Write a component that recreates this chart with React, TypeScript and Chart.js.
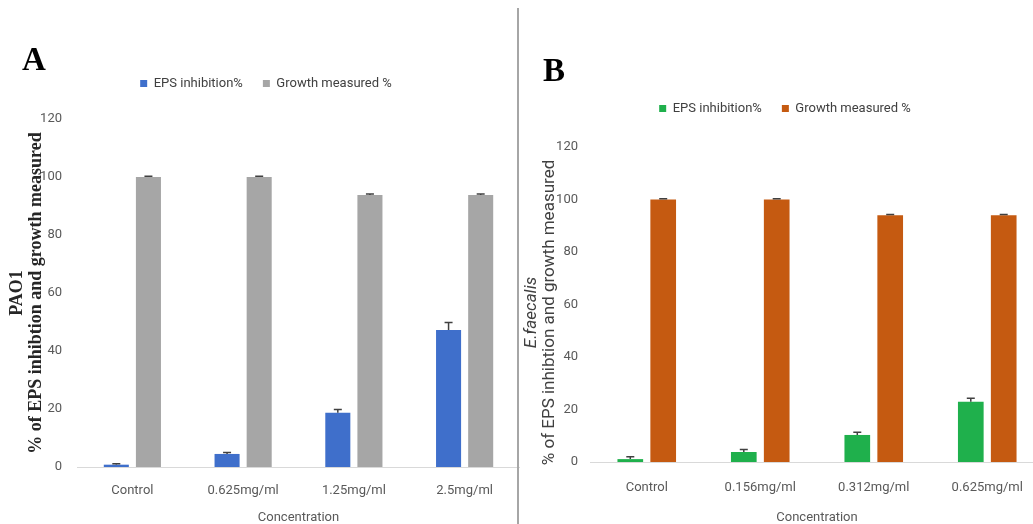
import React, { useEffect, useRef } from 'react';
import { Chart, registerables } from 'chart.js';

Chart.register(...registerables);

// ---------- data ----------
const categoriesA = ['Control', '0.625mg/ml', '1.25mg/ml', '2.5mg/ml'];
const epsA = [0.8, 4.5, 18.7, 47.2];
const epsErrA = [0.3, 0.5, 1.1, 2.6];
const growthA = [100, 100, 93.8, 93.8];
const growthErrA = [0.3, 0.3, 0.3, 0.3];

const categoriesB = ['Control', '0.156mg/ml', '0.312mg/ml', '0.625mg/ml'];
const epsB = [1.1, 3.8, 10.3, 23.0];
const epsErrB = [0.9, 1.0, 1.0, 1.3];
const growthB = [100, 100, 94, 94];
const growthErrB = [0.3, 0.3, 0.3, 0.3];

const seriesNames = ['EPS inhibition%', 'Growth measured %'];
const yMin = 0;
const yMax = 120;
const yStep = 20;
const xTitle = 'Concentration';
const yTitle = '% of EPS inhibtion and growth measured';
const organismA = 'PAO1';
const organismB = 'E.faecalis';

// ---------- styling ----------
const SANS = 'Roboto, "Liberation Sans", sans-serif';
const TEXT = '#595959';

const errorBars = {
  id: 'errorBars',
  afterDatasetsDraw(chart: any) {
    const ctx = chart.ctx;
    const y = chart.scales.y;
    chart.data.datasets.forEach((ds: any, i: number) => {
      const errs = ds.errors;
      if (!errs) return;
      const meta = chart.getDatasetMeta(i);
      meta.data.forEach((bar: any, j: number) => {
        const v = ds.data[j];
        const top = y.getPixelForValue(v + errs[j]);
        ctx.save();
        ctx.strokeStyle = '#404040';
        ctx.lineWidth = 1.5;
        ctx.beginPath();
        ctx.moveTo(bar.x, bar.y);
        ctx.lineTo(bar.x, top);
        ctx.moveTo(bar.x - 4, top);
        ctx.lineTo(bar.x + 4, top);
        ctx.stroke();
        ctx.restore();
      });
    });
  },
};

const legendHeight = {
  id: 'legendHeight',
  beforeInit(chart: any, _args: any, opts: any) {
    const l = chart.legend;
    if (!l) return;
    const fit = l.fit;
    l.fit = function () {
      fit.call(this);
      this.height = opts.height;
    };
  },
};

const sideTitles = {
  id: 'sideTitles',
  afterDraw(chart: any, _args: any, opts: any) {
    const ctx = chart.ctx;
    const area = chart.chartArea;
    const cy = (area.top + area.bottom) / 2 + (opts.dy || 0);
    (opts.lines || []).forEach((ln: any) => {
      ctx.save();
      ctx.translate(ln.x, cy);
      ctx.rotate(-Math.PI / 2);
      ctx.font = ln.font;
      ctx.fillStyle = ln.color;
      ctx.textAlign = 'center';
      ctx.textBaseline = 'middle';
      ctx.fillText(ln.text, 0, 0);
      ctx.restore();
    });
  },
};

function buildConfig(p: any) {
  return {
    type: 'bar',
    data: {
      labels: p.labels,
      datasets: [
        {
          label: seriesNames[0],
          data: p.eps,
          errors: p.epsErr,
          backgroundColor: p.c1,
          borderWidth: 0,
          categoryPercentage: 0.58,
          barPercentage: 0.78,
        },
        {
          label: seriesNames[1],
          data: p.growth,
          errors: p.growthErr,
          backgroundColor: p.c2,
          borderWidth: 0,
          categoryPercentage: 0.58,
          barPercentage: 0.78,
        },
      ],
    },
    options: {
      responsive: false,
      animation: false,
      layout: { padding: { top: p.padTop, left: p.padLeft, right: p.padRight, bottom: 0 } },
      plugins: {
        legend: {
          display: true,
          position: 'top',
          labels: {
            boxWidth: 7,
            boxHeight: 7,
            padding: 20,
            color: '#404040',
            font: { family: SANS, size: 13 },
          },
        },
        tooltip: { enabled: false },
        legendHeight: { height: p.legendH },
        sideTitles: { lines: p.titleLines, dy: p.titleDy },
      },
      scales: {
        x: {
          grid: { display: false, drawTicks: false },
          border: { display: true, color: '#d9d9d9', width: 1 },
          ticks: { color: TEXT, font: { family: SANS, size: 13 }, padding: p.xTickPad },
          title: {
            display: true,
            text: xTitle,
            color: TEXT,
            font: { family: SANS, size: 13, lineHeight: 1 },
            padding: 0,
          },
          afterFit: (s: any) => {
            s.height = p.xH;
          },
        },
        y: {
          min: yMin,
          max: yMax,
          grid: { display: false, drawTicks: false },
          border: { display: false },
          ticks: {
            stepSize: yStep,
            color: TEXT,
            font: { family: SANS, size: 13 },
            padding: p.yTickPad,
          },
          afterFit: (s: any) => {
            s.width = p.yW;
          },
        },
      },
    },
    plugins: [errorBars, legendHeight, sideTitles],
  };
}

function Panel(props: any) {
  const ref = useRef<HTMLCanvasElement>(null);
  useEffect(() => {
    const chart = new Chart(ref.current as any, buildConfig(props.cfg) as any);
    return () => chart.destroy();
  }, []);
  return (
    <canvas
      ref={ref}
      width={props.w}
      height={524}
      style={{ position: 'absolute', left: props.left, top: 0, width: props.w, height: 524 }}
    />
  );
}

export default function App() {
  const cfgA = {
    labels: categoriesA,
    eps: epsA,
    epsErr: epsErrA,
    growth: growthA,
    growthErr: growthErrA,
    c1: '#3F6FCB',
    c2: '#A6A6A6',
    padTop: 57,
    padLeft: 12,
    padRight: 0,
    legendH: 62,
    xH: 57,
    yW: 65,
    xTickPad: 16,
    yTickPad: 15,
    titleDy: 0,
    titleLines: [
      { text: organismA, x: 17, font: 'bold 18px "Liberation Serif", serif', color: '#262626' },
      { text: yTitle, x: 36, font: 'bold 18px "Liberation Serif", serif', color: '#262626' },
    ],
  };
  const cfgB = {
    labels: categoriesB,
    eps: epsB,
    epsErr: epsErrB,
    growth: growthB,
    growthErr: growthErrB,
    c1: '#1FB04C',
    c2: '#C55A11',
    padTop: 82,
    padLeft: 6,
    padRight: 6,
    legendH: 65,
    xH: 62,
    yW: 64,
    xTickPad: 18,
    yTickPad: 12,
    titleDy: 8,
    titleLines: [
      { text: organismB, x: 12, font: 'italic 17px ' + SANS, color: '#404040' },
      { text: yTitle, x: 30, font: '17px ' + SANS, color: '#404040' },
    ],
  };
  return (
    <div
      style={{
        position: 'fixed',
        left: 0,
        top: 0,
        width: 1033,
        height: 524,
        overflow: 'hidden',
        background: '#ffffff',
      }}
    >
      <Panel cfg={cfgA} left={0} w={520} />
      <Panel cfg={cfgB} left={520} w={530} />
      <div
        style={{
          position: 'absolute',
          left: 517,
          top: 8,
          width: 2,
          height: 516,
          background: '#a6a6a6',
        }}
      />
      <div
        style={{
          position: 'absolute',
          left: 22,
          top: 43,
          font: 'bold 33px "Liberation Serif", serif',
          lineHeight: 1,
          color: '#000',
        }}
      >
        A
      </div>
      <div
        style={{
          position: 'absolute',
          left: 543,
          top: 54,
          font: 'bold 33px "Liberation Serif", serif',
          lineHeight: 1,
          color: '#000',
        }}
      >
        B
      </div>
    </div>
  );
}
